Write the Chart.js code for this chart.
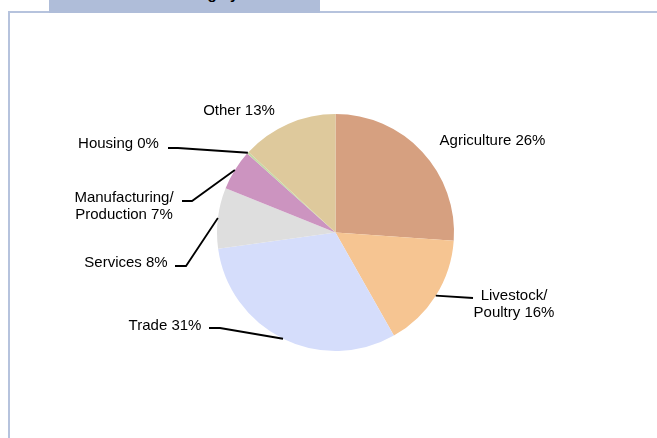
<!DOCTYPE html>
<html>
<head>
<meta charset="utf-8">
<script src="https://cdn.jsdelivr.net/npm/chart.js@4.4.1/dist/chart.umd.min.js"></script>
<style>
    html, body {
        margin: 0;
        padding: 0;
        background: #fff;
        width: 657px;
        height: 438px;
        overflow: hidden;
        font-family: "Liberation Sans", Arial, sans-serif;
    }
    .frameTop {
        position: absolute;
        left: 8px;
        top: 11px;
        width: 649px;
        height: 2px;
        background: #b6c3dd;
    }
    .frameLeft {
        position: absolute;
        left: 8px;
        top: 11px;
        width: 2px;
        height: 427px;
        background: #b6c3dd;
    }
    .titleBox {
        position: absolute;
        left: 49px;
        top: 0;
        width: 271px;
        height: 13px;
        background: #afbdd9;
        overflow: hidden;
    }
    .titleBox span {
        position: absolute;
        left: 0;
        width: 100%;
        top: -14px;
        line-height: 15px;
        text-align: center;
        font-weight: bold;
        font-size: 15px;
        color: #000;
        white-space: nowrap;
    }
    .chartBox {
        position: absolute;
        left: 0;
        top: 0;
        width: 657px;
        height: 438px;
    }
</style>
</head>
<body>
<div class="frameTop"></div>
<div class="frameLeft"></div>
<div class="titleBox"><span>Loans Outstanding by Sector</span></div>
<div class="chartBox"><canvas id="myChart"></canvas></div>

<script>
// slice shares (clockwise from 12 o'clock)
const sectors = [
    "Agriculture",
    "Livestock/ Poultry",
    "Trade",
    "Services",
    "Manufacturing/ Production",
    "Housing",
    "Other",
];
const shares = [26.1, 15.7, 31.0, 8.3, 5.5, 0.3, 13.1];
// label text as printed beside each slice
const labelLines = [
    ["Agriculture 26%"],
    ["Livestock/", "Poultry 16%"],
    ["Trade 31%"],
    ["Services 8%"],
    ["Manufacturing/", "Production 7%"],
    ["Housing 0%"],
    ["Other 13%"],
];
const sliceColors = [
    "#d6a080",
    "#f6c592",
    "#d5ddfb",
    "#dedede",
    "#cc94c0",
    "#c4d9a6",
    "#dec99c",
];

// label placement relative to the pie centre: text centre x, first baseline y,
// and (optionally) the leader's end point and elbow
const labelLayout = [
    { tx: 157, ty: -87.5 },
    { tx: 178.5, ty: 67.5, end: [137.5, 65.5] },
    { tx: -170.5, ty: 97.5, end: [-126.5, 95.5], elbow: [-115.5, 95.5] },
    { tx: -209.5, ty: 34, end: [-160.5, 33.5], elbow: [-149.5, 33.5] },
    { tx: -211.5, ty: -30.5, end: [-153.5, -31.5], elbow: [-143.5, -31.5] },
    { tx: -217, ty: -84.5, end: [-167.5, -84.5], elbow: [-157.5, -84.5] },
    { tx: -96.5, ty: -117.5 },
];

const sliceLabels = {
    id: "sliceLabels",
    afterDatasetsDraw(chart) {
        const ctx = chart.ctx;
        const meta = chart.getDatasetMeta(0);
        ctx.save();
        ctx.font = "15px 'Liberation Sans', Arial, sans-serif";
        ctx.fillStyle = "#000";
        ctx.strokeStyle = "#000";
        ctx.lineWidth = 1.8;
        ctx.textAlign = "center";
        ctx.textBaseline = "alphabetic";

        meta.data.forEach((arc, i) => {
            const { x, y, startAngle, endAngle, outerRadius } = arc.getProps(
                ["x", "y", "startAngle", "endAngle", "outerRadius"],
                true
            );
            const layout = labelLayout[i];

            if (layout.end) {
                const mid = (startAngle + endAngle) / 2;
                const px = x + Math.cos(mid) * outerRadius;
                const py = y + Math.sin(mid) * outerRadius;
                ctx.beginPath();
                ctx.moveTo(px, py);
                if (layout.elbow) {
                    ctx.lineTo(x + layout.elbow[0], y + layout.elbow[1]);
                }
                ctx.lineTo(x + layout.end[0], y + layout.end[1]);
                ctx.stroke();
            }

            labelLines[i].forEach((line, k) => {
                ctx.fillText(line, x + layout.tx, y + layout.ty + k * 16.5);
            });
        });
        ctx.restore();
    },
};

const ctx = document.querySelector("#myChart");

new Chart(ctx, {
    type: "pie",
    data: {
        labels: sectors,
        datasets: [
            {
                data: shares,
                backgroundColor: sliceColors,
                borderWidth: 0,
            },
        ],
    },
    options: {
        responsive: true,
        maintainAspectRatio: false,
        animation: false,
        layout: {
            padding: { left: 216, right: 202, top: 114, bottom: 87 },
        },
        plugins: {
            legend: { display: false },
            tooltip: { enabled: false },
        },
    },
    plugins: [sliceLabels],
});
</script>
</body>
</html>
